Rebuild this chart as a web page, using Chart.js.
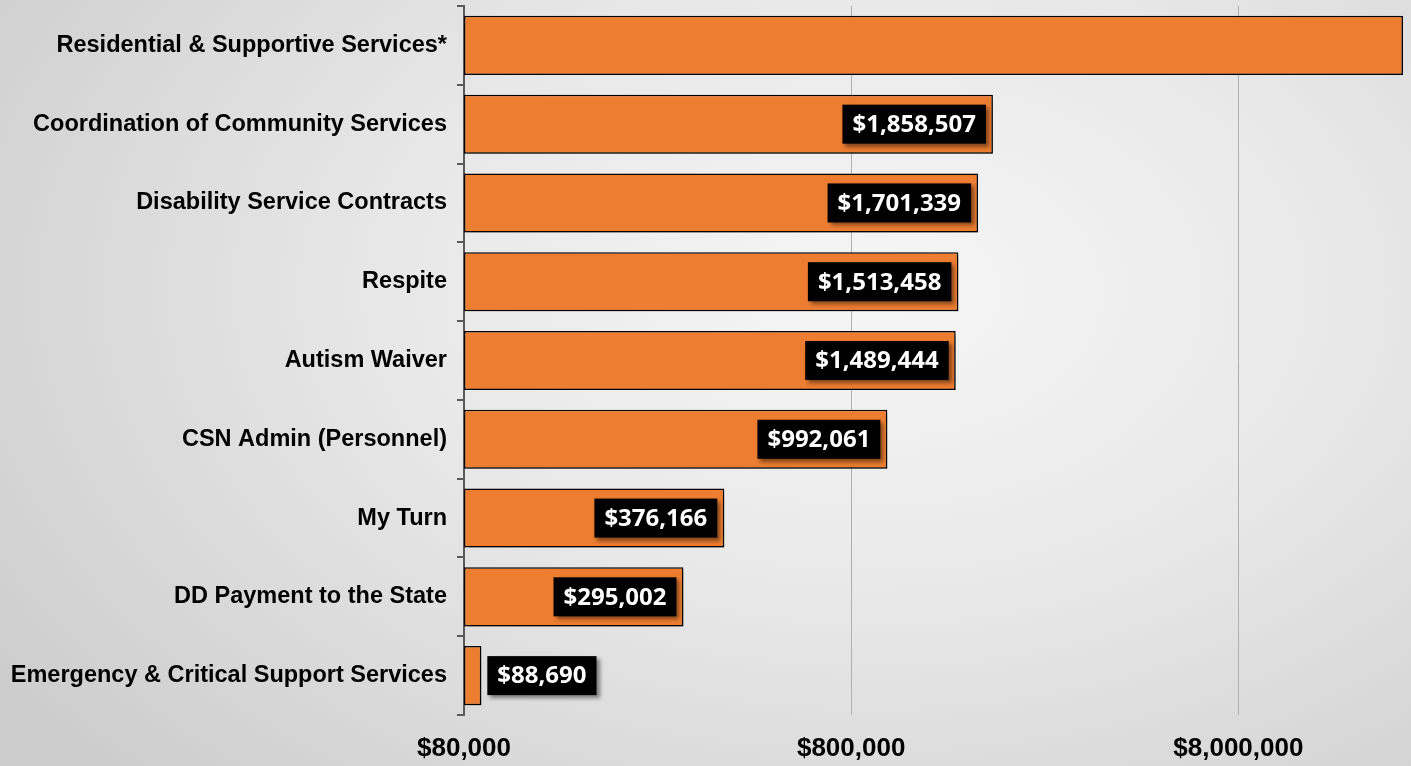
<!DOCTYPE html>
<html>
<head>
<meta charset="utf-8">
<script src="https://cdn.jsdelivr.net/npm/chart.js@4.4.0/dist/chart.umd.min.js"></script>
<style>
  html, body { margin: 0; padding: 0; }
  body {
    width: 1411px; height: 766px; overflow: hidden;
    background: radial-gradient(ellipse 75% 90% at 62% 38%, #f6f6f6 0%, #e8e8e8 45%, #cdcdcd 100%);
  }
  #wrap { width: 1411px; height: 766px; position: relative; }
</style>
</head>
<body>
<div id="wrap"><canvas id="budget"></canvas></div>
<script>
// categories, top to bottom
const categories = [
  'Residential & Supportive Services*',
  'Coordination of Community Services',
  'Disability Service Contracts',
  'Respite',
  'Autism Waiver',
  'CSN Admin (Personnel)',
  'My Turn',
  'DD Payment to the State',
  'Emergency & Critical Support Services'
];
// dollar amounts (first bar runs off the end of the axis, value estimated)
const amounts = [21300000, 1858507, 1701339, 1513458, 1489444, 992061, 376166, 295002, 88690];
const tickValues = [80000, 800000, 8000000];
const axisMin = 80000;
const axisMax = 21300000;

const money = v => '$' + v.toLocaleString('en-US');

// soft drop shadow behind the bars
const barShadow = {
  id: 'barShadow',
  beforeDatasetsDraw(chart) {
    const ctx = chart.ctx;
    ctx.save();
    ctx.shadowColor = 'rgba(0,0,0,0.35)';
    ctx.shadowBlur = 4;
    ctx.shadowOffsetX = 3;
    ctx.shadowOffsetY = 3;
  },
  afterDatasetsDraw(chart) {
    chart.ctx.restore();
  }
};

// black value boxes at the end of each bar
const valueBoxes = {
  id: 'valueBoxes',
  afterDatasetsDraw(chart) {
    const ctx = chart.ctx;
    const meta = chart.getDatasetMeta(0);
    ctx.save();
    ctx.font = 'bold 24px "Open Sans"';
    meta.data.forEach((bar, i) => {
      const v = amounts[i];
      if (v >= axisMax) return;
      const text = money(v);
      const w = ctx.measureText(text).width + 20;
      const h = 39;
      const len = bar.x - bar.base;
      const x = (w + 16 < len) ? bar.x - 7 - w : bar.x + 6;
      const y = bar.y - h / 2;
      ctx.shadowColor = 'rgba(0,0,0,0.45)';
      ctx.shadowBlur = 4;
      ctx.shadowOffsetX = 3;
      ctx.shadowOffsetY = 3;
      ctx.fillStyle = '#000';
      ctx.fillRect(x, y, w, h);
      ctx.shadowColor = 'transparent';
      ctx.fillStyle = '#fff';
      ctx.textAlign = 'center';
      ctx.textBaseline = 'middle';
      ctx.fillText(text, x + w / 2, bar.y + 1);
    });
    ctx.restore();
  }
};

new Chart(document.getElementById('budget').getContext('2d'), {
  type: 'bar',
  data: {
    labels: categories,
    datasets: [{
      data: amounts,
      backgroundColor: '#ED7D31',
      borderColor: '#000',
      borderWidth: 1.5,
      borderSkipped: false,
      barPercentage: 0.75,
      categoryPercentage: 1
    }]
  },
  options: {
    indexAxis: 'y',
    responsive: true,
    maintainAspectRatio: false,
    animation: false,
    layout: { padding: { top: 6, right: 8, left: 0, bottom: 0 } },
    plugins: {
      legend: { display: false },
      tooltip: { enabled: false }
    },
    scales: {
      x: {
        type: 'logarithmic',
        min: axisMin,
        max: axisMax,
        afterBuildTicks: scale => { scale.ticks = tickValues.map(v => ({ value: v })); },
        afterFit: scale => { scale.height = 51; },
        ticks: {
          color: '#000',
          font: { family: '"Liberation Sans", Arial', size: 26, weight: 'bold' },
          padding: 18,
          maxRotation: 0,
          callback: v => money(v)
        },
        grid: { color: '#b0b0b0', lineWidth: 1, drawTicks: false },
        border: { display: false }
      },
      y: {
        afterFit: scale => {
          scale.width = 464;
          scale.paddingTop = 0;
          scale.paddingBottom = 0;
        },
        ticks: {
          color: '#000',
          font: { family: '"Liberation Sans", Arial', size: 23.5, weight: 'bold' },
          padding: 10
        },
        grid: {
          offset: true,
          drawOnChartArea: false,
          drawTicks: true,
          tickLength: 7,
          color: '#5a5a5a',
          lineWidth: 2
        },
        border: { display: true, color: '#5a5a5a', width: 2 }
      }
    }
  },
  plugins: [barShadow, valueBoxes]
});
</script>
</body>
</html>
